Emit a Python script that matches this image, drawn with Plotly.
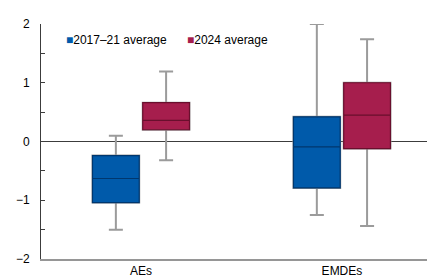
import plotly.graph_objects as go

categories = ["AEs", "EMDEs"]
series_names = ["2017–21 average", "2024 average"]

# Box statistics per series: [AEs, EMDEs]
low_2017 = [-1.50, -1.25]
q1_2017 = [-1.04, -0.79]
med_2017 = [-0.63, -0.09]
q3_2017 = [-0.24, 0.42]
high_2017 = [0.10, 2.00]

low_2024 = [-0.32, -1.44]
q1_2024 = [0.20, -0.12]
med_2024 = [0.36, 0.45]
q3_2024 = [0.66, 1.00]
high_2024 = [1.19, 1.74]

y_ticks = [-2, -1, 0, 1, 2]
y_tick_labels = ["−2", "−1", "0", "1", "2"]

blue = "rgb(0,90,170)"
blue_dark = "rgb(0,55,110)"
red = "rgb(166,30,77)"
red_dark = "rgb(105,15,45)"
whisker_gray = "rgb(155,155,155)"

fig = go.Figure()

series = [
    (series_names[0], low_2017, q1_2017, med_2017, q3_2017, high_2017, blue, blue_dark, "a"),
    (series_names[1], low_2024, q1_2024, med_2024, q3_2024, high_2024, red, red_dark, "b"),
]

for name, lo, q1, med, q3, hi, fill, dark, grp in series:
    # whiskers (gray)
    fig.add_trace(go.Box(
        x=categories, q1=q1, median=med, q3=q3, lowerfence=lo, upperfence=hi,
        offsetgroup=grp, alignmentgroup="g",
        line=dict(color=whisker_gray, width=2), fillcolor=fill,
        whiskerwidth=0.3, showlegend=False, hoverinfo="skip",
    ))
    # box body (colored with dark outline)
    fig.add_trace(go.Box(
        x=categories, q1=q1, median=med, q3=q3, lowerfence=q1, upperfence=q3,
        offsetgroup=grp, alignmentgroup="g",
        line=dict(color=dark, width=1.2), fillcolor=fill,
        whiskerwidth=0, showlegend=False, hoverinfo="skip",
    ))

legend_x = [0.058, 0.366]
annotations = []
for name, fill, lx in zip(series_names, [blue, red], legend_x):
    annotations.append(dict(
        xref="paper", yref="paper", x=lx, y=0.932, xanchor="left", yanchor="middle",
        showarrow=False,
        text=f'<span style="color:{fill}">■</span>{name}',
        font=dict(size=12, color="black"),
    ))

fig.update_layout(
    width=435, height=279,
    margin=dict(l=31, r=8, t=16, b=28),
    plot_bgcolor="white", paper_bgcolor="white",
    boxmode="group", boxgap=0.5, boxgroupgap=0.07,
    font=dict(family="Liberation Sans, Arial, sans-serif", size=12, color="black"),
    showlegend=False,
    annotations=annotations,
)

fig.update_xaxes(
    type="category", categoryorder="array", categoryarray=categories,
    range=[-0.4975, 1.463],
    showline=True, linecolor="rgb(150,150,150)", linewidth=2,
    ticks="", showgrid=False, zeroline=False,
    tickfont=dict(size=12),
)

fig.update_yaxes(
    range=[-2, 2], tickvals=y_ticks, ticktext=y_tick_labels,
    showline=True, linecolor="rgb(60,60,60)", linewidth=1,
    ticks="inside", ticklen=4, tickcolor="rgb(60,60,60)",
    ticklabelstandoff=8,
    minor=dict(ticks="inside", ticklen=4, dtick=0.5, tickcolor="rgb(60,60,60)", showgrid=False),
    showgrid=False,
    zeroline=True, zerolinecolor="rgb(60,60,60)", zerolinewidth=1,
    tickfont=dict(size=12),
)

fig.write_html("out.html")
